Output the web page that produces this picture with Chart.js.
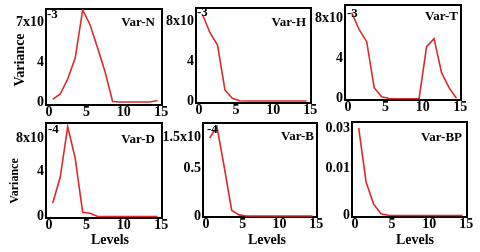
<!DOCTYPE html>
<html><head><meta charset="utf-8">
<script src="https://cdn.jsdelivr.net/npm/chart.js@4.4.1/dist/chart.umd.min.js"></script>
<style>
html,body{margin:0;padding:0;background:#fff;width:480px;height:252px;overflow:hidden}
canvas{position:absolute;left:0;top:0}
</style></head><body>
<canvas id="c0" width="480" height="252"></canvas>
<canvas id="c1" width="480" height="252"></canvas>
<canvas id="c2" width="480" height="252"></canvas>
<canvas id="c3" width="480" height="252"></canvas>
<canvas id="c4" width="480" height="252"></canvas>
<canvas id="c5" width="480" height="252"></canvas>
<script>
// ---- data ----
const levels = [0.5,1.5,2.5,3.5,4.5,5.5,6.5,7.5,8.5,9.5,10.5,11.5,12.5,13.5,14.5];
const varN  = [0.27,0.8,2.3,4.4,9.2,7.7,5.4,3.0,0.05,0,0,0,0,0,0.15];
const varH  = [8.6,6.8,5.6,1.1,0.27,0.03,0,0,0,0,0,0,0,0,0];
const varT  = [8.6,6.9,5.7,1.1,0.2,0.02,0,0,0,0,5.2,6.0,2.6,1.1,0.05];
const varD  = [1.38,4.0,9.15,5.95,0.43,0.33,0,0,0,0,0,0,0,0,0];
const varB  = [1.48,1.69,0.92,0.11,0.02,0,0,0,0,0,0,0,0,0,0];
const varBP = [0.030,0.0115,0.004,0.0006,0.0001,0,0,0,0,0,0,0,0,0,0];

const xTickValues = [0,5,10,15];
const xTickLabels = ['0','5','10','15'];

const yTicksN  = [0,4,8];        const yLabelsN  = ['0','4','7x10'];
const yTicksH  = [0,4,8];        const yLabelsH  = ['0','4','8x10'];
const yTicksT  = [0,4,8];        const yLabelsT  = ['0','4','8x10'];
const yTicksD  = [0,4.64,8];     const yLabelsD  = ['0','4','8x10'];
const yTicksB  = [0,0.91,1.5];   const yLabelsB  = ['0','0.5','1.5x10'];
const yTicksBP = [0,0.0163,0.03];const yLabelsBP = ['0','0.01','0.03'];

const titles = ['Var-N','Var-H','Var-T','Var-D','Var-B','Var-BP'];
const exponents = ['-3','-3','-3','-4','-4',''];
const yAxisTitle = 'Variance';
const xAxisTitle = 'Levels';

// ---- layout / style ----
const RED = '#dc2a2a';
const FAM = '"Liberation Serif","DejaVu Serif","Times New Roman",serif';
const X_MIN = -0.4, X_MAX = 15.1;
const panels = [
  {values:varN, yTicks:yTicksN, yLabels:yLabelsN, yMin:-0.3, yMax:9.3, frame:[46,9,162,105],
   title:[155,23], exp:[47,15], vt:[20,60,14]},
  {values:varH, yTicks:yTicksH, yLabels:yLabelsH, yMin:-0.2, yMax:9.3, frame:[196,8,311,103],
   title:[306,23], exp:[197,13]},
  {values:varT, yTicks:yTicksT, yLabels:yLabelsT, yMin:-0.13, yMax:9.37, frame:[345,5,461,100],
   title:[458,17], exp:[347,14]},
  {values:varD, yTicks:yTicksD, yLabels:yLabelsD, yMin:-0.15, yMax:9.53, frame:[46,123,162,218],
   title:[155,140], exp:[48,130], vt:[15,181,12], lt:[110,240]},
  {values:varB, yTicks:yTicksB, yLabels:yLabelsB, yMin:-0.02, yMax:1.765, frame:[203,123,317,217],
   title:[314,137], exp:[207,130], lt:[267,240]},
  {values:varBP, yTicks:yTicksBP, yLabels:yLabelsBP, yMin:-0.0005, yMax:0.03205, frame:[352,122,467,217],
   title:[462,138], exp:null, lt:[415,240]}
];

function decor(p, idx){
  return {
    id:'decor'+idx,
    beforeDatasetsDraw(chart){
      const a = chart.chartArea, ctx = chart.ctx;
      ctx.save();
      ctx.strokeStyle = '#000'; ctx.lineWidth = 2;
      ctx.strokeRect(a.left, a.top, a.right - a.left, a.bottom - a.top);
      ctx.restore();
    },
    afterDraw(chart){
      const ctx = chart.ctx;
      ctx.save();
      ctx.fillStyle = '#000';
      ctx.textBaseline = 'middle';
      ctx.font = 'bold 13px ' + FAM;
      ctx.textAlign = 'right';
      ctx.fillText(titles[idx], p.title[0], p.title[1]);
      if (p.exp && exponents[idx]) {
        ctx.textAlign = 'left';
        ctx.fillText(exponents[idx], p.exp[0], p.exp[1]);
      }
      if (p.lt) {
        ctx.font = 'bold 14px ' + FAM;
        ctx.textAlign = 'center';
        ctx.fillText(xAxisTitle, p.lt[0], p.lt[1]);
      }
      if (p.vt) {
        ctx.font = 'bold ' + p.vt[2] + 'px ' + FAM;
        ctx.translate(p.vt[0], p.vt[1]);
        ctx.rotate(-Math.PI/2);
        ctx.textAlign = 'center';
        ctx.fillText(yAxisTitle, 0, 0);
      }
      ctx.restore();
    }
  };
}

const WY = 40, HX = 20;
panels.forEach((p, idx) => {
  const [L,T,R,B] = p.frame;
  const font = {family: FAM, size: 14, weight: 'bold'};
  new Chart(document.getElementById('c'+idx), {
    type: 'line',
    data: { datasets: [{
      data: levels.map((x,i) => ({x: x, y: p.values[i]})),
      borderColor: RED, borderWidth: 1.6, pointRadius: 0, tension: 0, fill: false
    }]},
    options: {
      responsive: false, animation: false, devicePixelRatio: 1,
      layout: { padding: { left: L - WY, top: T, right: 480 - R, bottom: 252 - B - HX } },
      plugins: { legend: {display:false}, tooltip: {enabled:false}, title: {display:false} },
      scales: {
        x: { type: 'linear', min: X_MIN, max: X_MAX,
          afterBuildTicks: s => { s.ticks = xTickValues.map(v => ({value: v})); },
          afterFit: s => { s.height = HX; s.paddingLeft = 0; s.paddingRight = 0; },
          ticks: { callback: (v,i) => xTickLabels[i], font: font, color: '#000', padding: -1, maxRotation: 0, autoSkip: false },
          grid: {display: false, drawTicks: false}, border: {display: false} },
        y: { type: 'linear', min: p.yMin, max: p.yMax,
          afterBuildTicks: s => { s.ticks = p.yTicks.map(v => ({value: v})); },
          afterFit: s => { s.width = WY; s.paddingTop = 0; s.paddingBottom = 0; },
          ticks: { callback: (v,i) => p.yLabels[i], font: font, color: '#000', padding: 2, autoSkip: false },
          grid: {display: false, drawTicks: false}, border: {display: false} }
      }
    },
    plugins: [decor(p, idx)]
  });
});
</script>
</body></html>
